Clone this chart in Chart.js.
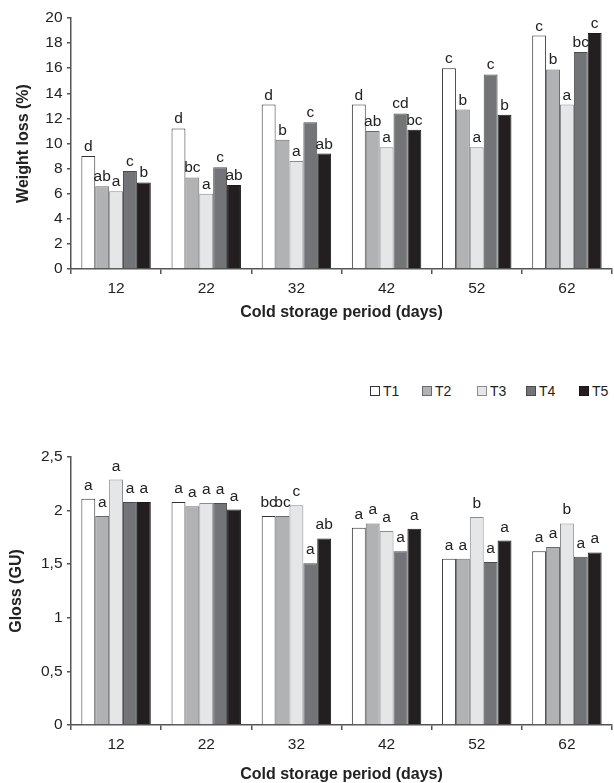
<!DOCTYPE html>
<html>
<head>
<meta charset="utf-8">
<script src="https://cdn.jsdelivr.net/npm/chart.js@4/dist/chart.umd.min.js"></script>
<style>
html,body{margin:0;padding:0;background:#fff;overflow:hidden;}
#wrap{position:relative;width:614px;height:783px;}
#c1{position:absolute;left:0;top:0;}
#c2{position:absolute;left:0;top:400px;}
#legend{position:absolute;left:0;top:383px;width:614px;height:16px;font:14px "Liberation Sans",Arial,sans-serif;color:#222;}
.item{position:absolute;top:0;height:16px;display:flex;align-items:center;white-space:nowrap;}
.box{width:8px;height:8px;border:1px solid #333;margin-right:3px;box-sizing:content-box;}
</style>
</head>
<body>
<div id="wrap">
  <canvas id="c1" width="614" height="330"></canvas>
  <div id="legend"></div>
  <canvas id="c2" width="614" height="383"></canvas>
</div>
<script>
// ---- data ----
const categories = ['12', '22', '32', '42', '52', '62'];
const seriesNames = ['T1', 'T2', 'T3', 'T4', 'T5'];

const weightT1 = [9.0, 11.2, 13.1, 13.1, 16.0, 18.6];
const weightT2 = [6.6, 7.3, 10.3, 11.0, 12.7, 15.9];
const weightT3 = [6.2, 6.0, 8.6, 9.7, 9.7, 13.1];
const weightT4 = [7.8, 8.1, 11.7, 12.4, 15.5, 17.3];
const weightT5 = [6.9, 6.7, 9.2, 11.1, 12.3, 18.8];

const weightLetT1 = ['d', 'd', 'd', 'd', 'c', 'c'];
const weightLetT2 = ['ab', 'bc', 'b', 'ab', 'b', 'b'];
const weightLetT3 = ['a', 'a', 'a', 'a', 'a', 'a'];
const weightLetT4 = ['c', 'c', 'c', 'cd', 'c', 'bc'];
const weightLetT5 = ['b', 'ab', 'ab', 'bc', 'b', 'c'];

const glossT1 = [2.11, 2.08, 1.95, 1.84, 1.55, 1.62];
const glossT2 = [1.95, 2.04, 1.95, 1.88, 1.55, 1.66];
const glossT3 = [2.29, 2.07, 2.05, 1.81, 1.94, 1.88];
const glossT4 = [2.08, 2.07, 1.51, 1.62, 1.52, 1.57];
const glossT5 = [2.08, 2.01, 1.74, 1.83, 1.72, 1.61];

const glossLetT1 = ['a', 'a', 'bc', 'a', 'a', 'a'];
const glossLetT2 = ['a', 'a', 'bc', 'a', 'a', 'a'];
const glossLetT3 = ['a', 'a', 'c', 'a', 'b', 'b'];
const glossLetT4 = ['a', 'a', 'a', 'a', 'a', 'a'];
const glossLetT5 = ['a', 'a', 'ab', 'a', 'a', 'a'];

const weightTickLabels = ['0', '2', '4', '6', '8', '10', '12', '14', '16', '18', '20'];
const glossTickLabels = ['0', '0,5', '1', '1,5', '2', '2,5'];

const xTitle = 'Cold storage period (days)';
const weightTitle = 'Weight loss (%)';
const glossTitle = 'Gloss (GU)';

// ---- styles / layout ----
const FAMILY = '"Liberation Sans", Arial, Helvetica, sans-serif';
const fills = ['#ffffff', '#b1b2b4', '#e5e6e8', '#737478', '#231f20'];
const borders = ['#333333', '#6a6a6c', '#8a8b8d', '#4a4b4e', '#1a1718'];
const axisColor = '#555555';
const textColor = '#222222';
const legendLeft = [370, 422, 477, 526, 579];

const letterPlugin = {
  id: 'letters',
  afterDatasetsDraw(chart, args, opts) {
    const ctx = chart.ctx;
    ctx.save();
    ctx.font = opts.font;
    ctx.fillStyle = textColor;
    ctx.textAlign = 'center';
    ctx.textBaseline = 'alphabetic';
    chart.data.datasets.forEach((ds, i) => {
      const meta = chart.getDatasetMeta(i);
      meta.data.forEach((el, j) => {
        ctx.fillText(ds.letters[j], el.x, el.y - opts.gap);
      });
    });
    ctx.restore();
  }
};

function makeDatasets(values, letters) {
  return values.map((v, i) => ({
    label: seriesNames[i],
    data: v,
    letters: letters[i],
    backgroundColor: fills[i],
    borderColor: borders[i],
    borderWidth: 1,
    categoryPercentage: 0.77,
    barPercentage: 1.0
  }));
}

function makeScales(cfg) {
  return {
    x: {
      grid: { offset: true, drawOnChartArea: false, drawTicks: true, tickLength: 5, color: axisColor, lineWidth: 1.5 },
      border: { display: true, color: axisColor, width: 1.5 },
      ticks: { font: { family: FAMILY, size: 15.5 }, color: textColor, padding: 5 },
      title: { display: true, text: xTitle, color: textColor,
               font: { family: FAMILY, size: 16, weight: 'bold' },
               padding: { top: 0, bottom: cfg.xTitlePad } },
      afterFit(s) { s.height = cfg.xHeight; }
    },
    y: {
      min: 0, max: cfg.max,
      grid: { drawOnChartArea: false, drawTicks: true, tickLength: 4, color: axisColor, lineWidth: 1.5 },
      border: { display: true, color: axisColor, width: 1.5 },
      ticks: { stepSize: cfg.step, font: { family: FAMILY, size: 15.5 }, color: textColor, padding: 4.5,
               callback: (v, i) => cfg.tickLabels[i] },
      title: { display: true, text: cfg.yTitle, color: textColor,
               font: { family: FAMILY, size: 16, weight: 'bold' },
               padding: { top: cfg.yTitlePad, bottom: 0 } },
      afterFit(s) { s.width = 71; }
    }
  };
}

new Chart(document.getElementById('c1'), {
  type: 'bar',
  data: {
    labels: categories,
    datasets: makeDatasets(
      [weightT1, weightT2, weightT3, weightT4, weightT5],
      [weightLetT1, weightLetT2, weightLetT3, weightLetT4, weightLetT5])
  },
  options: {
    responsive: false, animation: false, devicePixelRatio: 1,
    layout: { padding: { top: 18, right: 2, left: 0, bottom: 0 } },
    plugins: {
      legend: { display: false }, tooltip: { enabled: false },
      letters: { gap: 5, font: '15.5px ' + FAMILY }
    },
    scales: makeScales({ max: 20, step: 2, tickLabels: weightTickLabels, yTitle: weightTitle,
                         yTitlePad: 14.4, xTitlePad: 7.4, xHeight: 61 })
  },
  plugins: [letterPlugin]
});

new Chart(document.getElementById('c2'), {
  type: 'bar',
  data: {
    labels: categories,
    datasets: makeDatasets(
      [glossT1, glossT2, glossT3, glossT4, glossT5],
      [glossLetT1, glossLetT2, glossLetT3, glossLetT4, glossLetT5])
  },
  options: {
    responsive: false, animation: false, devicePixelRatio: 1,
    layout: { padding: { top: 57, right: 2, left: 0, bottom: 0 } },
    plugins: {
      legend: { display: false }, tooltip: { enabled: false },
      letters: { gap: 9, font: '15.5px ' + FAMILY }
    },
    scales: makeScales({ max: 2.5, step: 0.5, tickLabels: glossTickLabels, yTitle: glossTitle,
                         yTitlePad: 7.4, xTitlePad: -1.5, xHeight: 58 })
  },
  plugins: [letterPlugin]
});

// legend built from the series names and fills
const legend = document.getElementById('legend');
seriesNames.forEach((n, i) => {
  const it = document.createElement('div');
  it.className = 'item';
  it.style.left = legendLeft[i] + 'px';
  const b = document.createElement('span');
  b.className = 'box';
  b.style.background = fills[i];
  b.style.borderColor = i === 0 ? '#333' : borders[i];
  const t = document.createElement('span');
  t.textContent = n;
  it.appendChild(b); it.appendChild(t);
  legend.appendChild(it);
});
</script>
</body>
</html>
